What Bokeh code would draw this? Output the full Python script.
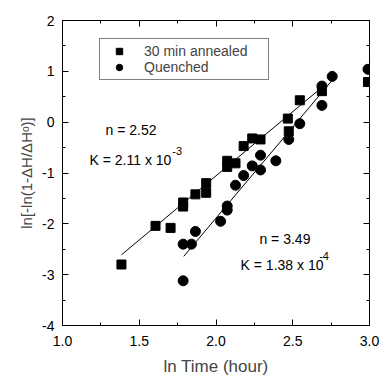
import math
from bokeh.plotting import figure
from bokeh.models import Range1d, LinearAxis, Label, Legend, LegendItem, FixedTicker
from bokeh.embed import file_html
from bokeh.resources import INLINE

# Data
annealed_x = [1.384, 1.606, 1.704, 1.786, 1.786, 1.866, 1.936, 1.936, 2.073, 2.073,
              2.127, 2.18, 2.236, 2.29, 2.468, 2.474, 2.546, 2.69, 2.99]
annealed_y = [-2.80, -2.04, -2.08, -1.58, -1.66, -1.42, -1.20, -1.39, -0.76, -0.88,
              -0.81, -0.47, -0.32, -0.34, 0.07, -0.18, 0.43, 0.61, 0.79]
quenched_x = [1.786, 1.786, 1.84, 1.866, 2.03, 2.073, 2.073, 2.127, 2.18, 2.236,
              2.29, 2.29, 2.39, 2.474, 2.546, 2.69, 2.69, 2.757, 2.99]
quenched_y = [-3.12, -2.40, -2.40, -2.15, -1.95, -1.65, -1.73, -1.24, -1.05, -0.86,
              -0.94, -0.65, -0.76, -0.34, -0.03, 0.33, 0.71, 0.90, 1.04]
fit_annealed_x = [1.384, 2.68]
fit_annealed_y = [-2.61, 0.66]
fit_quenched_x = [1.79, 2.75]
fit_quenched_y = [-2.64, 0.80]

x_ticks = [1.0, 1.5, 2.0, 2.5, 3.0]
x_minor = [1.25, 1.75, 2.25, 2.75]
y_ticks = [-4, -3, -2, -1, 0, 1, 2]
y_minor = [-3.5, -2.5, -1.5, -0.5, 0.5, 1.5]

FONT = "Liberation Sans"

p = figure(width=381, height=378, output_backend="svg", toolbar_location=None,
           x_range=Range1d(1.0, 3.0), y_range=Range1d(-4, 2),
           min_border_left=62, min_border_right=12, min_border_top=20, min_border_bottom=52)
p.grid.visible = False
p.outline_line_color = "black"
p.outline_line_width = 1
p.background_fill_color = "white"
p.border_fill_color = "white"

def style_axis(ax):
    ax.axis_line_color = "black"
    ax.major_tick_in = 6
    ax.major_tick_out = 0
    ax.minor_tick_in = 3
    ax.minor_tick_out = 0
    ax.major_tick_line_color = "black"
    ax.minor_tick_line_color = "black"
    ax.major_label_text_font = FONT
    ax.major_label_text_font_size = "14px"
    ax.major_label_text_color = "black"

xa = p.xaxis[0]
xa.ticker = FixedTicker(ticks=x_ticks, minor_ticks=x_minor)
xa.major_label_overrides = {t: f"{t:.1f}" for t in x_ticks}
style_axis(xa)
xa.major_label_standoff = 10
xa.axis_label = "ln Time (hour)"
xa.axis_label_text_font = FONT
xa.axis_label_text_font_style = "normal"
xa.axis_label_text_font_size = "17px"
xa.axis_label_standoff = 8

ya = p.yaxis[0]
ya.ticker = FixedTicker(ticks=y_ticks, minor_ticks=y_minor)
ya.major_label_overrides = {t: str(t) for t in y_ticks}
style_axis(ya)
ya.major_label_standoff = 8
ya.axis_label = "ln[-ln(1-ΔH/ΔHᵒ)]"
ya.axis_label_text_font = FONT
ya.axis_label_text_font_style = "normal"
ya.axis_label_text_font_size = "15px"
ya.axis_label_standoff = 4

top = LinearAxis(ticker=FixedTicker(ticks=x_ticks, minor_ticks=x_minor))
style_axis(top)
top.major_label_overrides = {t: "" for t in x_ticks}
top.major_label_standoff = 0
p.add_layout(top, "above")
right = LinearAxis(ticker=FixedTicker(ticks=y_ticks, minor_ticks=y_minor))
style_axis(right)
right.major_label_overrides = {t: "" for t in y_ticks}
right.major_label_standoff = 0
p.add_layout(right, "right")

p.line(fit_annealed_x, fit_annealed_y, line_color="black", line_width=1)
p.line(fit_quenched_x, fit_quenched_y, line_color="black", line_width=1)
r1 = p.scatter(annealed_x, annealed_y, marker="square", size=9, color="black")
r2 = p.scatter(quenched_x, quenched_y, marker="circle", size=10, color="black")

legend = Legend(items=[LegendItem(label="30 min annealed", renderers=[r1]),
                       LegendItem(label="Quenched", renderers=[r2])],
                location=(37, 245), padding=4, spacing=0, margin=0,
                glyph_width=30, glyph_height=16, label_standoff=10, label_width=120,
                label_text_font=FONT, label_text_font_size="14px",
                border_line_color="black", border_line_width=1,
                background_fill_alpha=1.0)
p.add_layout(legend, "center")

def lab(x, y, t, size="14px", align="left"):
    p.add_layout(Label(x=x, y=y, text=t, text_font=FONT, text_font_size=size,
                       text_align=align, text_baseline="middle", text_color="black"))

lab(1.28, -0.157, "n = 2.52")
lab(1.176, -0.745, "K = 2.11 x 10")
lab(1.715, -0.56, "-3", size="11px")
lab(2.283, -2.294, "n = 3.49")
lab(2.16, -2.80, "K = 1.38 x 10")
lab(2.672, -2.64, "-4", size="11px")

open("out.html", "w").write(file_html(p, INLINE))
